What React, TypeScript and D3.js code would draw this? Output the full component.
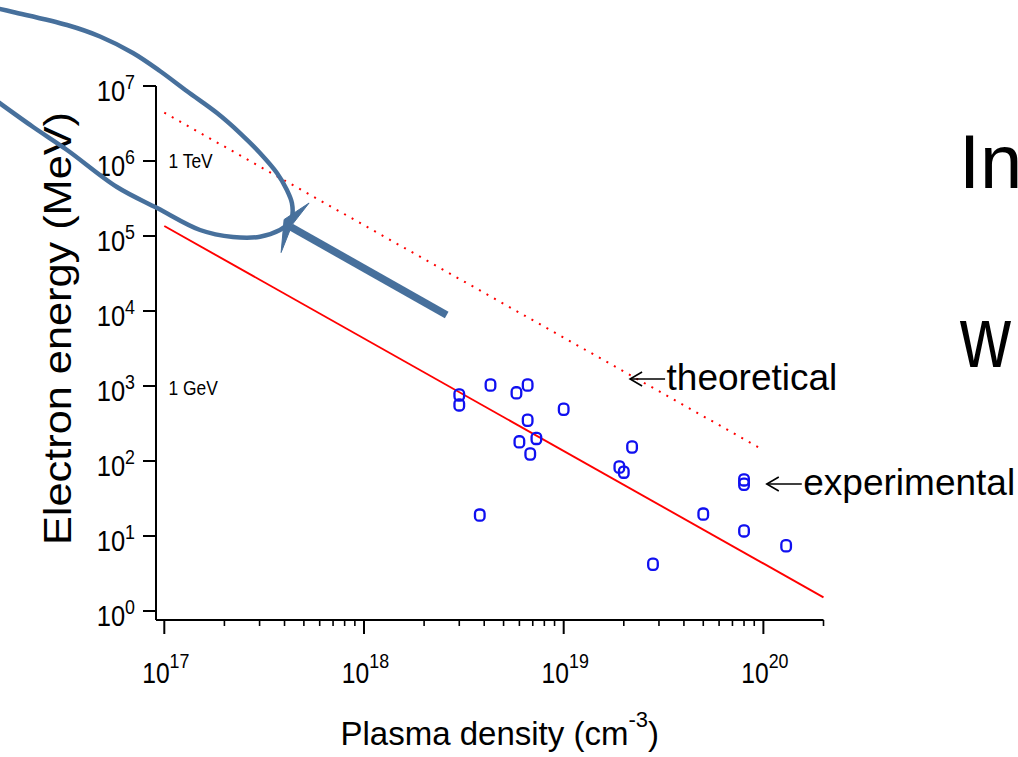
import React from 'react';
import * as d3 from 'd3';

const W = 1018;
const H = 757;

// Experimental points: plasma density (cm^-3) and electron energy (MeV)
const expDensity = [3.0e18, 3.0e18, 4.3e18, 5.8e18, 6.6e18, 1.0e19, 6.6e18, 7.3e18, 6.0e18, 6.8e18, 3.8e18, 2.2e19, 1.9e19, 2.0e19, 2.8e19, 8.0e19, 8.0e19, 5.0e19, 8.0e19, 1.3e20];
const expEnergy = [760, 560, 1030, 810, 1030, 490, 350, 200, 180, 124, 19, 154, 83, 71, 4.2, 56, 49, 19.6, 11.7, 7.4];

// Theoretical (dotted) line
const theoryDensity = [1e17, 1e20];
const theoryEnergy = [4.4e6, 140];

// Experimental trend (solid) line
const trendDensity = [1e17, 2e20];
const trendEnergy = [1.36e5, 1.52];

// Annotation: callout loop, in log10 data units [log n, log E]
const calloutLoop: [number, number][] = [
  [16.14, 8.05], [16.242, 7.987], [16.513, 7.813], [16.678, 7.66], [16.843, 7.44],
  [16.978, 7.2], [17.114, 6.93], [17.264, 6.64], [17.379, 6.373], [17.479, 6.107],
  [17.564, 5.84], [17.614, 5.613], [17.639, 5.44], [17.639, 5.253], [17.619, 5.16],
  [17.579, 5.08], [17.479, 4.99], [17.344, 4.987], [17.179, 5.08], [16.964, 5.373],
  [16.763, 5.653], [16.513, 6.147], [16.343, 6.453], [16.14, 6.84],
];
const calloutShaft: [number, number][] = [[18.414, 3.947], [17.634, 5.12]];
const calloutHead: [number, number][] = [[17.6, 5.22], [17.725, 5.44], [17.64, 5.15], [17.585, 4.78]];

// Labels
const energyMarks = [
  { label: '1 TeV', energy: 1e6, dy: 7 },
  { label: '1 GeV', energy: 1e3, dy: 9 },
];
const seriesLabels = [
  { label: 'theoretical', density: 2.15e19, energy: 1240 },
  { label: 'experimental', density: 1.04e20, energy: 49.3 },
];
const xTitle = 'Plasma density (cm';
const xTitleSup = '-3';
const yTitle = 'Electron energy (MeV)';

const FONT = "'Liberation Sans', Arial, Helvetica, sans-serif";
const BLUE_NOTE = '#47709c';

export default function App() {
  const x = d3.scaleLog().domain([1e17, 2e20]).range([164.3, 823.5]);
  const y = d3.scaleLog().domain([1, 1e7]).range([611, 86]);
  const axisX = 156;
  const axisY = 620;

  const isMajor = (t: number) => Math.abs(Math.log10(t) - Math.round(Math.log10(t))) < 1e-9;
  const xTicks = x.ticks();
  const yTicks = y.ticks().filter(isMajor);

  const line = d3.line<[number, number]>().x(d => x(d[0])).y(d => y(d[1]));
  const loopLine = d3
    .line<[number, number]>()
    .x(d => x(Math.pow(10, d[0])))
    .y(d => y(Math.pow(10, d[1])))
    .curve(d3.curveCatmullRom.alpha(0.5));
  const straightLog = d3
    .line<[number, number]>()
    .x(d => x(Math.pow(10, d[0])))
    .y(d => y(Math.pow(10, d[1])));

  const theory: [number, number][] = theoryDensity.map((d, i) => [d, theoryEnergy[i]]);
  const trend: [number, number][] = trendDensity.map((d, i) => [d, trendEnergy[i]]);
  const pts = expDensity.map((d, i) => ({ n: d, e: expEnergy[i] }));

  return (
    <svg
      width={W}
      height={H}
      style={{ position: 'absolute', left: 0, top: 0, background: '#fff' }}
      fontFamily={FONT}
    >
      <rect x={0} y={0} width={W} height={H} fill="#fff" />

      {/* axes */}
      <line x1={axisX} y1={y(1e7)} x2={axisX} y2={axisY} stroke="#000" strokeWidth={2} />
      <line x1={axisX} y1={axisY} x2={x(2e20)} y2={axisY} stroke="#000" strokeWidth={2} />
      {yTicks.map(t => (
        <line key={'yt' + t} x1={axisX - 13} x2={axisX} y1={y(t)} y2={y(t)} stroke="#000" strokeWidth={2} />
      ))}
      {xTicks.map(t => (
        <line
          key={'xt' + t}
          x1={x(t)}
          x2={x(t)}
          y1={axisY}
          y2={axisY + (isMajor(t) ? 14 : 6)}
          stroke="#000"
          strokeWidth={isMajor(t) ? 2 : 1.6}
        />
      ))}

      {/* y tick labels */}
      {yTicks.map(t => (
        <g key={'yl' + t} transform={`translate(135,${y(t) + 14.5}) scale(0.85,1)`}>
          <text x={0} y={0} textAnchor="end" fontSize={30} fill="#000">
            10
            <tspan fontSize={21} dy={-12}>
              {Math.round(Math.log10(t))}
            </tspan>
          </text>
        </g>
      ))}

      {/* x tick labels */}
      {xTicks.filter(isMajor).map(t => (
        <g key={'xl' + t} transform={`translate(${x(t) + 1.5},${axisY + 63}) scale(0.85,1)`}>
          <text x={0} y={0} textAnchor="middle" fontSize={29} fill="#000">
            10
            <tspan fontSize={21} dy={-15}>
              {Math.round(Math.log10(t))}
            </tspan>
          </text>
        </g>
      ))}

      {/* energy marks */}
      {energyMarks.map(m => (
        <g key={m.label} transform={`translate(168.5,${y(m.energy) + m.dy}) scale(0.87,1)`}>
          <text x={0} y={0} fontSize={20} fill="#000">
            {m.label}
          </text>
        </g>
      ))}

      {/* axis titles */}
      <text x={340.5} y={745} fontSize={33} fill="#000">
        {xTitle}
        <tspan fontSize={22} dy={-18}>
          {xTitleSup}
        </tspan>
        <tspan dy={18}>)</tspan>
      </text>
      <g transform="translate(70.5,328.5) scale(0.92,1)">
        <text
          transform="rotate(-90)"
          textAnchor="middle"
          fontSize={42}
          fill="#000"
          textLength={433}
          lengthAdjust="spacingAndGlyphs"
        >
          {yTitle}
        </text>
      </g>

      {/* theoretical dotted line */}
      <path d={line(theory) || ''} fill="none" stroke="#ff0000" strokeWidth={2} strokeDasharray="2 6.6" />
      {/* trend solid line */}
      <path d={line(trend) || ''} fill="none" stroke="#ff0000" strokeWidth={1.9} />

      {/* experimental points */}
      {pts.map((p, i) => (
        <rect
          key={'p' + i}
          x={x(p.n) - 4.8}
          y={y(p.e) - 5.6}
          width={9.6}
          height={11.2}
          rx={3.8}
          ry={4}
          fill="none"
          stroke="#1010f0"
          strokeWidth={2.3}
        />
      ))}

      {/* series labels with arrows */}
      {seriesLabels.map(s => {
        const tx = x(s.density);
        const ty = y(s.energy);
        return (
          <g key={s.label}>
            <line x1={tx} y1={ty} x2={tx + 35} y2={ty} stroke="#000" strokeWidth={1.6} />
            <path
              d={`M${tx + 12},${ty - 7} L${tx},${ty} L${tx + 12},${ty + 7}`}
              fill="none"
              stroke="#000"
              strokeWidth={1.6}
            />
            <text x={tx + 36.5} y={ty + 11} fontSize={37} fill="#000">
              {s.label}
            </text>
          </g>
        );
      })}

      {/* slide text cut at the right edge */}
      <text x={959} y={188} fontSize={76} fill="#000">
        In
      </text>
      <g transform="translate(960,367) scale(0.8,1)">
        <text x={0} y={0} fontSize={88} fill="#000">
          w
        </text>
      </g>

      {/* callout */}
      <path d={loopLine(calloutLoop) || ''} fill="none" stroke={BLUE_NOTE} strokeWidth={4.5} />
      <path d={straightLog(calloutShaft) || ''} fill="none" stroke={BLUE_NOTE} strokeWidth={7.5} />
      <path d={(straightLog(calloutHead) || '') + 'Z'} fill={BLUE_NOTE} stroke={BLUE_NOTE} strokeWidth={1} />
    </svg>
  );
}
